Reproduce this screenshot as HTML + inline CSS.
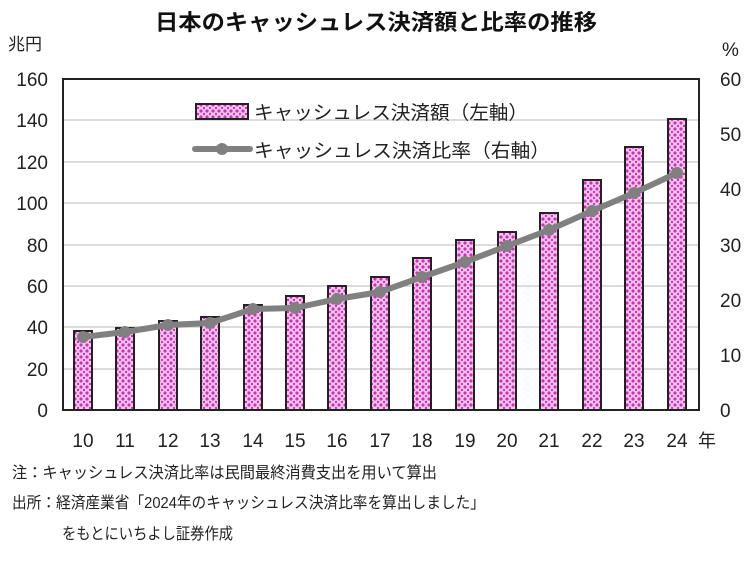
<!DOCTYPE html>
<html><head><meta charset="utf-8"><style>
body{margin:0;background:#fff;}
svg text{font-family:"Liberation Sans","Noto Sans CJK JP",sans-serif;}
</style></head><body>
<svg width="750" height="558" viewBox="0 0 750 558" xmlns="http://www.w3.org/2000/svg">
<defs>
<pattern id="p" width="6" height="6" patternUnits="userSpaceOnUse">
<rect width="6" height="6" fill="#f6c8ee"/>
<circle cx="3" cy="3" r="1.6" fill="#d030b8"/>
<circle cx="0" cy="0" r="1.2" fill="#d030b8"/><circle cx="6" cy="0" r="1.2" fill="#d030b8"/>
<circle cx="0" cy="6" r="1.2" fill="#d030b8"/><circle cx="6" cy="6" r="1.2" fill="#d030b8"/>
</pattern>
</defs>
<text x="155" y="30" font-size="22" font-weight="bold" textLength="442" lengthAdjust="spacingAndGlyphs" fill="#111">日本のキャッシュレス決済額と比率の推移</text>
<text x="8" y="50" font-size="17" fill="#222">兆円</text>
<text x="722" y="56" font-size="19" fill="#222">%</text>
<g stroke="#d0d0d0" stroke-width="1.5">
<line x1="63" x2="699" y1="120" y2="120"/><line x1="63" x2="699" y1="162" y2="162"/>
<line x1="63" x2="699" y1="203" y2="203"/><line x1="63" x2="699" y1="245" y2="245"/>
<line x1="63" x2="699" y1="286" y2="286"/><line x1="63" x2="699" y1="327" y2="327"/>
<line x1="63" x2="699" y1="369" y2="369"/>
</g>
<g font-size="19" fill="#222" text-anchor="end">
<text x="48" y="86">160</text><text x="48" y="127">140</text><text x="48" y="169">120</text>
<text x="48" y="210">100</text><text x="48" y="252">80</text><text x="48" y="293">60</text>
<text x="48" y="334">40</text><text x="48" y="376">20</text><text x="48" y="417">0</text>
</g>
<g font-size="19" fill="#222">
<text x="720" y="86">60</text><text x="720" y="141">50</text><text x="720" y="196">40</text>
<text x="720" y="252">30</text><text x="720" y="307">20</text><text x="720" y="362">10</text>
<text x="720" y="417">0</text>
</g>
<g fill="url(#p)" stroke="#222" stroke-width="2">
<rect x="74" y="331" width="18" height="79"/>
<rect x="116" y="328" width="18" height="82"/>
<rect x="159" y="321" width="18" height="89"/>
<rect x="201" y="317" width="18" height="93"/>
<rect x="244" y="305" width="18" height="105"/>
<rect x="286" y="296" width="18" height="114"/>
<rect x="328" y="286" width="18" height="124"/>
<rect x="371" y="277" width="18" height="133"/>
<rect x="413" y="258" width="18" height="152"/>
<rect x="456" y="240" width="18" height="170"/>
<rect x="498" y="232" width="18" height="178"/>
<rect x="540" y="213" width="18" height="197"/>
<rect x="583" y="180" width="18" height="230"/>
<rect x="625" y="147" width="18" height="263"/>
<rect x="668" y="119" width="18" height="291"/>
</g>
<polyline fill="none" stroke="#808080" stroke-width="6" stroke-linejoin="round" points="83,337 125,332 168,325 210,323 253,309 295,308 337,299 380,292 422,277 465,262 507,246 549,230 592,211 634,193 677,173"/>
<g fill="#808080">
<circle cx="83" cy="337" r="6"/><circle cx="125" cy="332" r="6"/><circle cx="168" cy="325" r="6"/>
<circle cx="210" cy="323" r="6"/><circle cx="253" cy="309" r="6"/><circle cx="295" cy="308" r="6"/>
<circle cx="337" cy="299" r="6"/><circle cx="380" cy="292" r="6"/><circle cx="422" cy="277" r="6"/>
<circle cx="465" cy="262" r="6"/><circle cx="507" cy="246" r="6"/><circle cx="549" cy="230" r="6"/>
<circle cx="592" cy="211" r="6"/><circle cx="634" cy="193" r="6"/><circle cx="677" cy="173" r="6"/>
</g>
<rect x="63" y="79" width="636" height="331" fill="none" stroke="#222" stroke-width="2"/>
<rect x="196" y="104" width="52" height="15" fill="url(#p)" stroke="#222" stroke-width="2"/>
<text x="254" y="119" font-size="19" textLength="274" lengthAdjust="spacingAndGlyphs" fill="#222">キャッシュレス決済額（左軸）</text>
<line x1="195" x2="250" y1="149" y2="149" stroke="#808080" stroke-width="6" stroke-linecap="round"/>
<circle cx="222" cy="149" r="6" fill="#808080"/>
<text x="254" y="157" font-size="19" textLength="296" lengthAdjust="spacingAndGlyphs" fill="#222">キャッシュレス決済比率（右軸）</text>
<g font-size="19" fill="#222" text-anchor="middle">
<text x="83" y="447">10</text><text x="125" y="447">11</text><text x="168" y="447">12</text>
<text x="210" y="447">13</text><text x="253" y="447">14</text><text x="295" y="447">15</text>
<text x="337" y="447">16</text><text x="380" y="447">17</text><text x="422" y="447">18</text>
<text x="465" y="447">19</text><text x="507" y="447">20</text><text x="549" y="447">21</text>
<text x="592" y="447">22</text><text x="634" y="447">23</text><text x="677" y="447">24</text>
</g>
<text x="698" y="447" font-size="18" fill="#222">年</text>
<g font-size="16" fill="#222">
<text x="12" y="478" textLength="425" lengthAdjust="spacingAndGlyphs">注：キャッシュレス決済比率は民間最終消費支出を用いて算出</text>
<text x="12" y="508" textLength="473" lengthAdjust="spacingAndGlyphs">出所：経済産業省「2024年のキャッシュレス決済比率を算出しました」</text>
<text x="62" y="539" textLength="171" lengthAdjust="spacingAndGlyphs">をもとにいちよし証券作成</text>
</g>
</svg>
</body></html>
